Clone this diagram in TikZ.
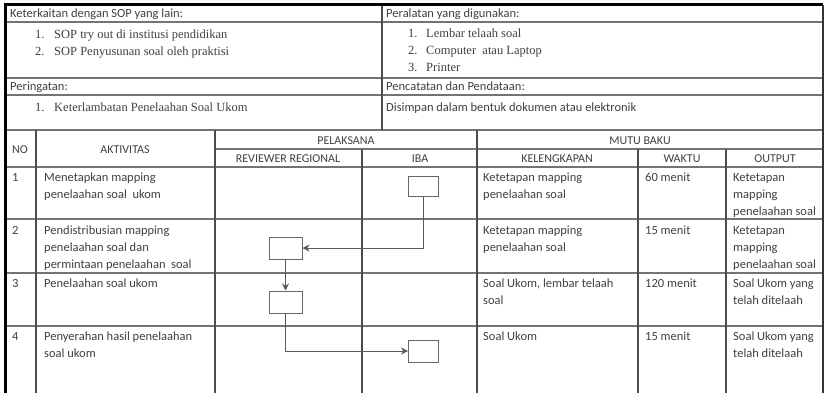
\documentclass[tikz,border=0pt]{standalone}
\usepackage{fontspec}
\setmainfont{Liberation Serif}
\newfontfamily\calfont{Carlito}
\usetikzlibrary{arrows.meta}
\newcommand\fs{\strut}
\begin{document}
\begin{tikzpicture}[x=1pt,y=-1pt,
 hl/.style={line width=2pt, black!55},
 vl/.style={line width=1.3pt, black!70},
 outer/.style={line width=3pt, black},
 txt/.style={anchor=north west, yshift=11.9pt, inner sep=0pt, align=left, font=\calfont\fontsize{12.5}{17}\selectfont, text=black!75},
 srf/.style={anchor=base west, inner sep=0pt, align=left, font=\fontsize{12.5}{17}\selectfont, text=black!75},
 hdr/.style={anchor=base, inner sep=0pt, font=\calfont\fontsize{12}{14}\selectfont, text=black!75},
 stepbox/.style={draw=black!60, line width=1pt, fill=white, minimum width=32pt, minimum height=22pt, inner sep=0pt},
 arr/.style={draw=black!65, line width=1pt, -{Stealth[length=7pt,width=7pt]}}]
\useasboundingbox (0,0) rectangle (826,393);
\fill[white] (0,0) rectangle (826,393);
% top section
\draw[hl] (5,22) -- (823,22);
\draw[hl] (5,78) -- (823,78);
\draw[hl] (5,95) -- (823,95);
\draw[hl] (5,130) -- (823,130);
\draw[vl] (382,5) -- (382,130);
% lower table
\draw[hl] (215,149) -- (823,149);
\draw[hl] (5,167) -- (823,167);
\draw[hl] (5,219) -- (823,219);
\draw[hl] (5,273) -- (823,273);
\draw[hl] (5,326) -- (823,326);
\draw[vl] (36,130) -- (36,393);
\draw[vl] (215,130) -- (215,393);
\draw[vl] (362,149) -- (362,393);
\draw[vl] (477,130) -- (477,393);
\draw[vl] (638,149) -- (638,393);
\draw[vl] (726,149) -- (726,393);
% outer
\draw[outer] (5,393) -- (5,5) -- (823,5);
\draw[line width=2pt, black!80] (823,5) -- (823,393);

% top section text
\node[txt] (t1) at (10,17) {\fs Keterkaitan dengan SOP yang lain:};
\node[srf] (t1n1) at (35,39) {1.};
\node[srf] (t1a) at (54,39) {SOP try out di institusi pendidikan};
\node[srf] (t1n2) at (35,56) {2.};
\node[srf] (t1b) at (54,56) {SOP Penyusunan soal oleh praktisi};
\node[txt] (t2) at (386,17) {\fs Peralatan yang digunakan:};
\node[srf] (t2n1) at (408,38) {1.};
\node[srf] (t2a) at (426,38) {Lembar telaah soal};
\node[srf] (t2n2) at (408,55) {2.};
\node[srf] (t2b) at (426,55) {Computer\ \ atau Laptop};
\node[srf] (t2n3) at (408,72) {3.};
\node[srf] (t2c) at (426,72) {Printer};
\node[txt] (t3) at (10,90) {\fs Peringatan:};
\node[srf] (t3n1) at (35,112) {1.};
\node[srf] (t3a) at (54,112) {Keterlambatan Penelaahan Soal Ukom};
\node[txt] (t4) at (386,90) {\fs Pencatatan dan Pendataan:};
\node[txt] (t4a) at (386,111) {\fs Disimpan dalam bentuk dokumen atau elektronik};

% headers
\node[hdr, anchor=base west] (hno) at (12,153) {NO};
\node[hdr] (hakt) at (125,153) {AKTIVITAS};
\node[hdr] (hpel) at (346,144) {PELAKSANA};
\node[hdr] (hmutu) at (640,144) {MUTU BAKU};
\node[hdr] (hrev) at (288,162) {REVIEWER REGIONAL};
\node[hdr] (hiba) at (420,162) {IBA};
\node[hdr] (hkel) at (557,162) {KELENGKAPAN};
\node[hdr] (hwak) at (682,162) {WAKTU};
\node[hdr] (hout) at (775,162) {OUTPUT};

% row 1
\node[txt] (r1no) at (12,181) {\fs 1};
\node[txt] (r1akt) at (44,181) {\fs Menetapkan mapping\\penelaahan soal\ \ ukom};
\node[txt] (r1kel) at (483,181) {\fs Ketetapan mapping\\penelaahan soal};
\node[txt] (r1wak) at (645,181) {\fs 60 menit};
\node[txt] (r1out) at (733,181) {\fs Ketetapan\\mapping\\penelaahan soal};
% row 2
\node[txt] (r2no) at (12,234) {\fs 2};
\node[txt] (r2akt) at (44,234) {\fs Pendistribusian mapping\\penelaahan soal dan\\permintaan penelaahan\ \ soal};
\node[txt] (r2kel) at (483,234) {\fs Ketetapan mapping\\penelaahan soal};
\node[txt] (r2wak) at (645,234) {\fs 15 menit};
\node[txt] (r2out) at (733,234) {\fs Ketetapan\\mapping\\penelaahan soal};
% row 3
\node[txt] (r3no) at (12,287) {\fs 3};
\node[txt] (r3akt) at (44,287) {\fs Penelaahan soal ukom};
\node[txt] (r3kel) at (483,287) {\fs Soal Ukom, lembar telaah\\soal};
\node[txt] (r3wak) at (645,287) {\fs 120 menit};
\node[txt] (r3out) at (733,287) {\fs Soal Ukom yang\\telah ditelaah};
% row 4
\node[txt] (r4no) at (12,340) {\fs 4};
\node[txt] (r4akt) at (44,340) {\fs Penyerahan hasil penelaahan\\soal ukom};
\node[txt] (r4kel) at (483,340) {\fs Soal Ukom};
\node[txt] (r4wak) at (645,340) {\fs 15 menit};
\node[txt] (r4out) at (733,340) {\fs Soal Ukom yang\\telah ditelaah};

% flow boxes
\node[stepbox, minimum width=30pt, minimum height=20pt] (b1) at (423.5,186) {};
\node[stepbox, minimum width=33pt] (b2) at (285.5,248) {};
\node[stepbox, minimum width=33pt] (b3) at (285.5,302) {};
\node[stepbox, minimum width=30pt] (b4) at (423.5,351) {};
\draw[arr] (b1.south) |- (b2.east);
\draw[arr] (b2.south) -- (b3.north);
\draw[arr] (b3.south) |- (b4.west);
\end{tikzpicture}
\end{document}
